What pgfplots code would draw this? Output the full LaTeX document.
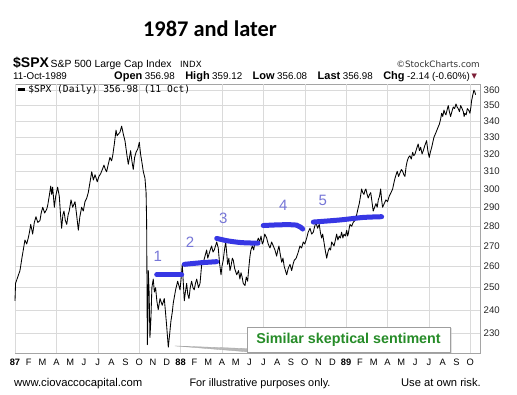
\documentclass[border=0pt]{standalone}
\usepackage{fontspec}
\setmainfont{Liberation Sans}
\newfontfamily\monofont{DejaVu Sans Mono}
\newfontfamily\djv{DejaVu Sans}
\newfontfamily\carlito{Carlito}
\usepackage{pgfplots}
\pgfplotsset{compat=1.18}
\usetikzlibrary{shadows}
\definecolor{gridc}{RGB}{218,218,218}
\definecolor{framec}{RGB}{165,165,165}
\definecolor{markblue}{RGB}{55,55,228}
\definecolor{numblue}{RGB}{118,118,215}
\definecolor{sentgreen}{RGB}{38,140,40}
\definecolor{arrowred}{RGB}{125,30,55}
\newcommand\lab[1]{{\fontsize{11}{12}\selectfont\bfseries #1}\hspace{2.5pt}}
\newcommand\val[1]{{\fontsize{9.8}{12}\selectfont #1}}
\begin{document}
\begin{tikzpicture}[x=1pt,y=1pt]
\useasboundingbox (0,0) rectangle (517,394);
\fill[white] (0,0) rectangle (517,394);
% headings
\node[anchor=base, inner sep=0pt, font=\carlito\bfseries\fontsize{22.4}{24}\selectfont] at (210,357) {1987 and later};
\node[anchor=base west, inner sep=0pt, font=\bfseries\fontsize{14}{15}\selectfont] at (13,326.5) {\$SPX};
\node[anchor=base west, inner sep=0pt, font=\fontsize{10.4}{12}\selectfont] at (50.5,326.5) {S\&P 500 Large Cap Index};
\node[anchor=base west, inner sep=0pt, font=\djv\fontsize{8.6}{10}\selectfont] at (180,326.5) {INDX};
\node[anchor=base east, inner sep=0pt, font=\djv\fontsize{8.8}{10}\selectfont, text=black!80] at (480,326.5) {\textcopyright StockCharts.com};
\node[anchor=base west, inner sep=0pt, font=\fontsize{9.8}{12}\selectfont] at (13,314) {11-Oct-1989};
\node[anchor=base east, inner sep=0pt] at (470,314) {\lab{Open}\val{356.98}\hspace{10.5pt}\lab{High}\val{359.12}\hspace{10.5pt}\lab{Low}\val{356.08}\hspace{10.5pt}\lab{Last}\val{356.98}\hspace{10.5pt}\lab{Chg}\val{-2.14 (-0.60\%)}};
\node[anchor=base west, inner sep=0pt, font=\djv\fontsize{7}{8}\selectfont, text=arrowred] at (471.5,315) {▼};
% footer
\node[anchor=base west, inner sep=0pt, font=\fontsize{11.3}{12}\selectfont] at (14,8) {www.ciovaccocapital.com};
\node[anchor=base, inner sep=0pt, font=\fontsize{10.9}{12}\selectfont] at (260,8) {For illustrative purposes only.};
\node[anchor=base east, inner sep=0pt, font=\fontsize{11.2}{12}\selectfont] at (481,8) {Use at own risk.};
\begin{axis}[
  at={(15pt,41pt)}, anchor=south west, scale only axis,
  width=465pt, height=269pt,
  xmin=0, xmax=33.7,
  ymode=log, ymin=221.6, ymax=364.2,
  axis line style={draw=framec, line width=0.9pt},
  xtick={0,1,...,33},
  xticklabels={\textbf{87},F,M,A,M,J,J,A,S,O,N,D,\textbf{88},F,M,A,M,J,J,A,S,O,N,D,\textbf{89},F,M,A,M,J,J,A,S,O},
  xticklabel style={font=\fontsize{9.3}{10}\selectfont, anchor=base, yshift=-13pt, inner sep=0pt},
  extra x ticks={0,3,...,33},
  extra x tick labels={},
  extra x tick style={grid=major, major tick length=0pt},
  ytick={230,240,250,260,270,280,290,300,310,320,330,340,350,360},
  yticklabels={230,240,250,260,270,280,290,300,310,320,330,340,350,360},
  yticklabel pos=right,
  yticklabel style={font=\fontsize{9.6}{10}\selectfont, anchor=west, inner sep=0pt, xshift=3.5pt, text=black!85},
  ymajorgrids, grid style={draw=gridc, line width=0.5pt},
  major tick length=0pt, minor tick num=0,
  /pgf/number format/assume math mode=true,
  clip=false,
]
% price line
\addplot[black, line width=0.85pt, line join=round] coordinates {
(0.00,244) (0.04,252) (0.20,255) (0.36,258) (0.50,264) (0.60,268) (0.72,273) (0.85,271) (0.96,274)
(1.05,277) (1.14,281) (1.28,276) (1.40,282) (1.52,285) (1.65,282) (1.81,283) (1.90,287) (2.01,290)
(2.15,287) (2.30,289) (2.37,291) (2.48,296) (2.59,301.6) (2.66,297) (2.73,301) (2.85,290) (2.95,296)
(3.09,301) (3.21,296) (3.30,286) (3.38,279) (3.47,286) (3.55,288) (3.65,283) (3.75,281) (3.85,286)
(3.93,288) (4.06,294) (4.18,290) (4.35,293) (4.45,287) (4.59,278) (4.70,285) (4.83,290) (4.95,288)
(5.07,293) (5.20,295) (5.31,298) (5.42,303) (5.56,309.7) (5.68,305) (5.80,308) (5.96,304) (6.08,307)
(6.21,308.6) (6.33,311) (6.45,313.5) (6.55,311) (6.64,309.7) (6.76,314) (6.88,318) (7.00,316) (7.08,319)
(7.20,326) (7.32,334.4) (7.40,331) (7.49,332) (7.60,333) (7.73,336.9) (7.85,332) (7.97,328) (8.10,320)
(8.21,314) (8.30,318) (8.38,322) (8.47,316) (8.57,311) (8.67,318) (8.77,321) (8.90,323) (9.01,327)
(9.10,320) (9.22,314) (9.30,309.7) (9.42,306) (9.50,298) (9.54,282) (9.59,225) (9.63,236) (9.66,258)
(9.72,248) (9.78,228) (9.85,236) (9.92,250) (10.02,254) (10.10,248) (10.19,250) (10.28,244) (10.38,240)
(10.51,245) (10.67,242) (10.82,245) (10.92,238) (10.99,233) (11.11,224) (11.20,229) (11.30,235)
(11.40,239) (11.47,243) (11.64,249) (11.79,253) (11.96,249) (12.05,255) (12.12,261) (12.20,252)
(12.27,244) (12.35,248) (12.44,252) (12.52,247) (12.61,245) (12.70,250) (12.80,253) (12.90,250)
(12.99,249) (13.08,252) (13.17,254) (13.30,250) (13.41,252) (13.53,261) (13.65,262) (13.77,265)
(13.89,268) (13.97,264) (14.06,266) (14.15,268) (14.25,270) (14.35,267) (14.44,268) (14.53,270)
(14.62,272) (14.73,269) (14.82,262) (14.93,256) (15.00,260) (15.09,263) (15.18,268) (15.27,272)
(15.35,266) (15.41,261) (15.50,264) (15.58,258) (15.65,260) (15.75,264) (15.82,263) (15.92,259)
(16.07,256) (16.20,258) (16.30,254) (16.38,257) (16.46,255) (16.54,252) (16.67,251) (16.76,255)
(16.86,253) (16.94,259) (17.03,265) (17.10,268) (17.20,270) (17.30,268) (17.39,272) (17.50,271)
(17.63,274) (17.73,272) (17.83,275) (17.92,271) (17.99,272) (18.10,276) (18.24,274) (18.35,271)
(18.48,269) (18.60,272) (18.72,270) (18.84,268) (18.96,265) (19.05,268) (19.13,270) (19.22,266)
(19.33,262) (19.42,264) (19.51,260) (19.60,258) (19.69,256) (19.80,259) (19.93,261) (20.05,258)
(20.15,261) (20.24,263) (20.38,264) (20.53,267) (20.65,270) (20.77,269) (20.89,272) (21.00,271)
(21.14,274) (21.25,277) (21.38,279) (21.50,276) (21.62,277) (21.72,280) (21.81,282) (21.93,279)
(22.05,281) (22.13,277) (22.22,274) (22.30,276) (22.39,272) (22.48,268) (22.59,264) (22.68,267)
(22.78,269) (22.87,268) (22.95,272) (23.04,271) (23.12,270) (23.22,273) (23.31,276) (23.40,273)
(23.50,275) (23.58,274) (23.67,277) (23.76,274) (23.84,276) (23.94,275) (24.04,278) (24.10,275)
(24.15,276) (24.22,279) (24.28,281) (24.40,280) (24.51,282) (24.63,283) (24.76,286) (24.85,289)
(24.95,292) (25.04,296) (25.12,300) (25.20,298) (25.29,297) (25.36,299) (25.43,300) (25.52,297)
(25.60,295) (25.70,297) (25.78,298) (25.87,293) (25.96,288) (26.06,290) (26.16,292) (26.25,290)
(26.33,294) (26.42,296) (26.50,300) (26.57,294) (26.64,290) (26.76,292) (26.88,294) (27.00,293)
(27.12,296) (27.25,298) (27.37,300) (27.45,303) (27.54,306) (27.62,308) (27.70,310) (27.80,307)
(27.90,309) (28.00,311) (28.09,310) (28.18,308) (28.26,307) (28.35,313) (28.43,316) (28.52,318)
(28.62,319) (28.72,317) (28.82,321) (28.90,319) (28.99,320) (29.10,323) (29.22,326) (29.31,322)
(29.40,324) (29.50,320) (29.59,322) (29.70,325) (29.83,328) (29.92,322) (30.02,318) (30.10,321)
(30.20,324) (30.28,327) (30.36,330) (30.46,332) (30.56,334) (30.65,336) (30.75,338) (30.84,341)
(30.92,345) (31.00,343) (31.09,347) (31.16,345) (31.23,344) (31.31,347) (31.40,350) (31.48,346)
(31.57,343) (31.66,346) (31.76,349) (31.86,348) (31.96,351) (32.04,349) (32.12,348) (32.21,346)
(32.30,350) (32.40,348) (32.49,346) (32.55,343) (32.61,345) (32.70,344) (32.78,348) (32.88,347)
(32.97,345) (33.04,349) (33.09,353) (33.18,357) (33.26,360) (33.32,359) (33.38,357)
};
% hand-drawn levels
\addplot[markblue, line width=5pt, line cap=round] coordinates {(10.27,256) (12.08,256)};
\addplot[markblue, line width=5pt, line cap=round] coordinates {(12.27,261) (13.5,261.8) (14.62,262.3)};
\addplot[markblue, line width=5pt, line cap=round, smooth] coordinates {(14.62,273.8) (15.4,272.6) (16.4,271.7) (17.61,271.4)};
\addplot[markblue, line width=5pt, line cap=round, smooth] coordinates {(17.99,280.4) (19.3,280.8) (20.41,280.6) (20.85,278.6)};
\addplot[markblue, line width=5pt, line cap=round, smooth] coordinates {(21.62,282.2) (23.55,283.3) (25.2,284.6) (26.57,285)};
\node[text=numblue, font=\fontsize{15}{16}\selectfont] at (axis cs:10.34,265) {1};
\node[text=numblue, font=\fontsize{15}{16}\selectfont] at (axis cs:12.68,272) {2};
\node[text=numblue, font=\fontsize{15}{16}\selectfont] at (axis cs:15.09,284) {3};
\node[text=numblue, font=\fontsize{15}{16}\selectfont] at (axis cs:19.44,291) {4};
\node[text=numblue, font=\fontsize{15}{16}\selectfont] at (axis cs:22.30,293.6) {5};
% callout
\addplot[fill=gray!55, draw=gray!70, line width=0.3pt] coordinates {(11.59,224.5) (16.81,223.4) (16.81,222.1) (11.59,224.5)};
\node[draw=gray!75, fill=white, line width=0.6pt, minimum width=203pt, minimum height=25pt, inner sep=0pt,
      drop shadow={shadow xshift=1.5pt, shadow yshift=-1.5pt, fill=gray!45},
      text=sentgreen, font=\bfseries\fontsize{14.3}{16}\selectfont] at (axis cs:24.17,227.2) {Similar skeptical sentiment};
% legend
\node[anchor=base west, inner sep=0pt, font=\monofont\fontsize{9.6}{10}\selectfont] at (axis cs:0.95,358.8) {\$SPX (Daily) 356.98 (11 Oct)};
\addplot[black, line width=2.2pt] coordinates {(0.2,360.5) (0.7,360.5)};
\end{axis}
\end{tikzpicture}
\end{document}
